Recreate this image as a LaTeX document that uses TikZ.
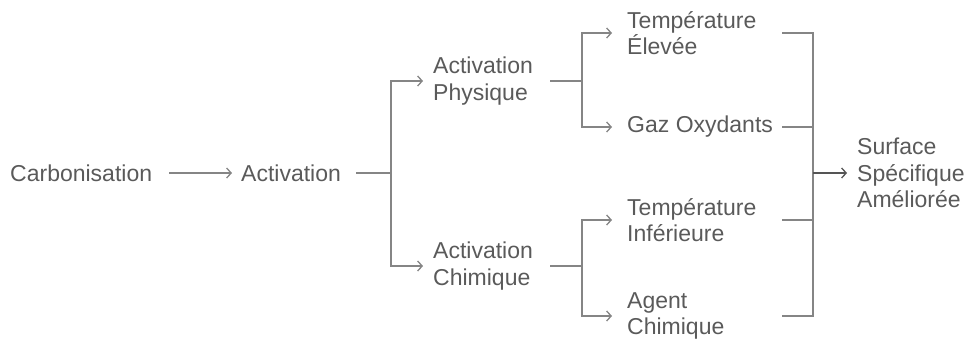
\documentclass[tikz,border=0pt]{standalone}
\usepackage{fontspec}
\setmainfont{Liberation Sans}
\usetikzlibrary{arrows.meta}
\definecolor{txt}{HTML}{5A5A5A}
\definecolor{ln}{HTML}{858585}
\definecolor{lndark}{HTML}{555555}
\begin{document}
\begin{tikzpicture}[x=1pt,y=-1pt,
  lbl/.style={anchor=west,inner sep=0pt,align=left,text=txt,font=\fontsize{23}{26.5}\selectfont},
  conn/.style={draw=ln,line width=1.4pt},
  arr/.style={conn,-{Straight Barb[length=4.5pt,width=10pt,line width=1.3pt]}}]
\useasboundingbox (0,0) rectangle (967,338);
% nodes
\node[lbl] (carb) at (10,173) {Carbonisation};
\node[lbl] (act)  at (241,173) {Activation};
\node[lbl] (actp) at (433,81) {Activation\\Physique};
\node[lbl] (actc) at (433,266) {Activation\\Chimique};
\node[lbl] (te)   at (627,33) {Température\\Élevée};
\node[lbl] (gaz)  at (627,127) {Gaz Oxydants};
\node[lbl] (ti)   at (627,220) {Température\\Inférieure};
\node[lbl] (ag)   at (627,316) {Agent\\Chimique};
\node[lbl] (surf) at (857,173) {Surface\\Spécifique\\Améliorée};
% junction coordinates
\coordinate (j1) at (391,173);
\coordinate (jp) at (582,81);
\coordinate (jc) at (582,266);
\coordinate (r0) at (782,0);
\coordinate (m)  at (813,173);
% connectors
\draw[arr,shorten <=17pt,shorten >=9pt] (carb.east) -- (act.west);
\draw[conn,shorten <=15pt] (act.east) -- (j1);
\draw[arr,shorten >=10pt] (j1) |- (actp.west);
\draw[arr,shorten >=10pt] (j1) |- (actc.west);
\draw[conn] (actp.west -| 550,0) -- (jp);
\draw[arr,shorten >=15pt] (jp) |- (te.west);
\draw[arr,shorten >=15pt] (jp) |- (gaz.west);
\draw[conn] (actc.west -| 550,0) -- (jc);
\draw[arr,shorten >=15pt] (jc) |- (ti.west);
\draw[arr,shorten >=15pt] (jc) |- (ag.west);
\draw[conn] (te.west -| r0) -- (te.west -| m) -- (ag.west -| m) -- (ag.west -| r0);
\draw[conn] (gaz.west -| r0) -- (gaz.west -| m);
\draw[conn] (ti.west -| r0) -- (ti.west -| m);
\draw[arr,draw=lndark,shorten >=10pt] (m) -- (surf.west);
\end{tikzpicture}
\end{document}
